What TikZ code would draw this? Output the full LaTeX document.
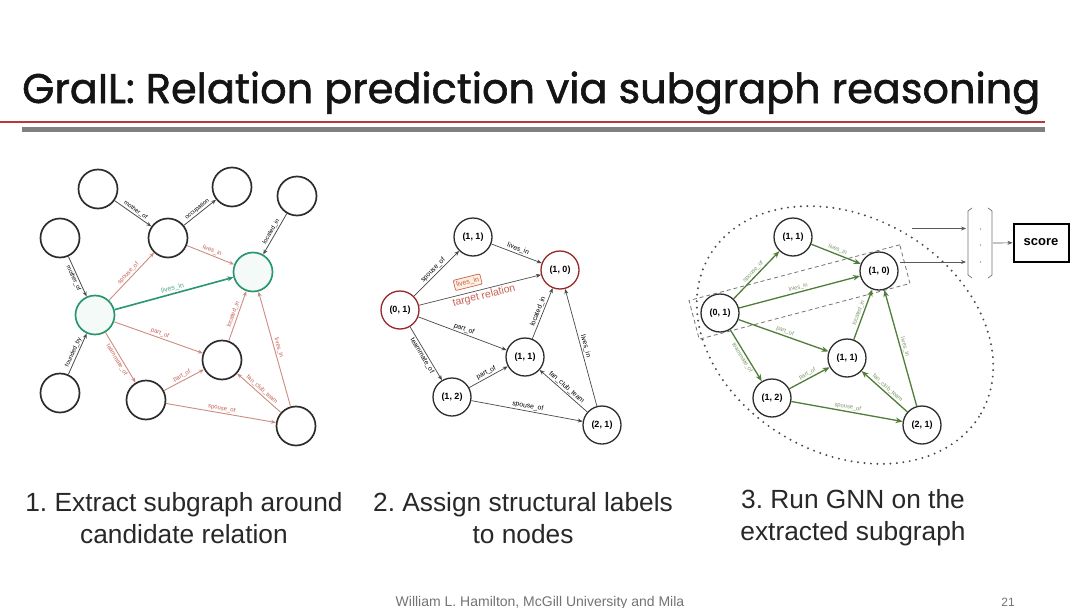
\documentclass[tikz,border=0pt]{standalone}
\usepackage{fontspec}
\setmainfont{Liberation Sans}
\newfontfamily\titlefont[FakeBold=1.4]{Poppins}
\usetikzlibrary{arrows.meta,shapes.geometric,calc}
\definecolor{nodegray}{RGB}{45,45,45}
\definecolor{tealg}{RGB}{40,150,110}
\definecolor{salmon}{RGB}{205,140,128}
\definecolor{labred}{RGB}{200,95,80}
\definecolor{darkred}{RGB}{150,40,40}
\definecolor{gnn}{RGB}{80,125,55}
\definecolor{gnnlab}{RGB}{125,150,105}
\definecolor{titlered}{RGB}{190,55,55}
\definecolor{capgray}{RGB}{40,40,40}
\tikzset{
  c1/.style={circle, draw=nodegray, line width=1.7pt, minimum size=39pt, inner sep=0pt, fill=white},
  gc/.style={c1, draw=tealg, fill=tealg!5},
  c2/.style={circle, draw=nodegray, line width=1.3pt, minimum size=38pt, inner sep=0pt, fill=white, font=\bfseries\fontsize{9}{10}\selectfont},
  c2r/.style={c2, draw=darkred},
  lab/.style={font=\fontsize{6}{6}\selectfont, sloped, above, inner sep=1.2pt},
  labb/.style={lab, below},
  lab2/.style={lab, font=\fontsize{6.8}{7}\selectfont},
  lab2b/.style={lab2, below},
  dk/.style={-{Stealth[length=5pt,width=4pt]}, draw=black!70, line width=0.8pt},
  rd/.style={-{Stealth[length=5pt,width=4pt]}, draw=salmon, line width=0.9pt},
  rdl/.style={lab, text=labred},
  rdlb/.style={labb, text=labred},
  gr/.style={-{Stealth[length=6pt,width=5pt]}, draw=tealg, line width=1.6pt},
  e2/.style={-{Stealth[length=5pt,width=4pt]}, draw=black!72, line width=0.7pt},
  e3/.style={-{Stealth[length=7pt,width=5.5pt]}, draw=gnn, line width=1.3pt},
  g3l/.style={lab, text=gnnlab, font=\fontsize{5.8}{6}\selectfont},
  g3lb/.style={g3l, below},
  plain/.style={-{Stealth[length=5pt,width=4pt]}, draw=black!65, line width=0.7pt},
  caption/.style={font=\fontsize{26.3}{32}\selectfont, text=capgray, align=center}
}
\begin{document}
\begin{tikzpicture}[x=1pt,y=-1pt]
\useasboundingbox (0,0) rectangle (1080,608);
\fill[white] (0,0) rectangle (1080,608);

% title
\node[anchor=base west, inner sep=0pt, text=black!92] (title) at (22,103)
  {\resizebox{1018pt}{!}{\titlefont GraIL: Relation prediction via subgraph reasoning}};
\draw[titlered, line width=2.5pt] (0,122) -- (1045,122);
\draw[black!50, line width=5pt] (22,129.5) -- (1045,129.5);

% ---------- panel 1 ----------
\node[c1] (A) at (98,189) {};
\node[c1] (B) at (60,238) {};
\node[c1] (C) at (168,238) {};
\node[c1] (D) at (232,187) {};
\node[c1] (E) at (297,196) {};
\node[gc] (F) at (253,272) {};
\node[gc] (G) at (95,315) {};
\node[c1] (H) at (60,393) {};
\node[c1] (I) at (146,400) {};
\node[c1] (J) at (222,360) {};
\node[c1] (K) at (296,426) {};

\draw[dk] (A) -- node[lab] {mother\_of} (C);
\draw[dk] (C) -- node[lab] {occupation} (D);
\draw[dk] (B) -- node[labb] {mother\_of} (G);
\draw[dk] (E) -- node[lab] {located\_in} (F);
\draw[dk] (H) -- node[lab] {founded\_by} (G);
\draw[rd] (G) -- node[rdl] {spouse\_of} (C);
\draw[rd] (C) -- node[rdl] {lives\_in} (F);
\draw[rd] (G) -- node[rdlb] {teammate\_of} (I);
\draw[rd] (G) -- node[rdl] {part\_of} (J);
\draw[rd] (I) -- node[rdl] {part\_of} (J);
\draw[rd] (I) -- node[rdl] {spouse\_of} (K);
\draw[rd] (J) -- node[rdl] {located\_in} (F);
\draw[rd] (K) -- node[rdl] {lives\_in} (F);
\draw[rd] (K) -- node[rdl] {fan\_club\_team} (J);
\draw[gr] (G) -- node[lab, text=tealg!80, font=\fontsize{7}{7}\selectfont] {lives\_in} (F);

% ---------- panel 2 ----------
\node[c2r] (P1) at (400,310) {(0, 1)};
\node[c2] (P2) at (473,237) {(1, 1)};
\node[c2r] (P3) at (560,270) {(1, 0)};
\node[c2] (P4) at (525,357) {(1, 1)};
\node[c2] (P5) at (452,397) {(1, 2)};
\node[c2] (P6) at (602,425) {(2, 1)};

\draw[e2] (P1) -- node[lab2] {spouse\_of} (P2);
\draw[e2] (P2) -- node[lab2] {lives\_in} (P3);
\draw[e2] (P1) -- node[pos=0.42, sloped, above=5pt, draw=labred, fill=orange!12, text=labred, font=\fontsize{7}{7}\selectfont, inner sep=2pt, rounded corners=1pt] {lives\_in}
                 node[pos=0.52, sloped, below=0.5pt, text=labred, font=\fontsize{10.5}{10}\selectfont, inner sep=1pt] {target relation} (P3);
\draw[e2] (P1) -- node[lab2] {part\_of} (P4);
\draw[e2] (P1) -- node[lab2b] {teammate\_of} (P5);
\draw[e2] (P5) -- node[lab2] {part\_of} (P4);
\draw[e2] (P5) -- node[lab2] {spouse\_of} (P6);
\draw[e2] (P4) -- node[lab2] {located\_in} (P3);
\draw[e2] (P6) -- node[lab2] {lives\_in} (P3);
\draw[e2] (P6) -- node[lab2] {fan\_club\_team} (P4);

% ---------- panel 3 ----------
\node[ellipse, draw=black!70, line width=2.2pt, dash pattern=on 0pt off 6.5pt, line cap=round,
      minimum width=314pt, minimum height=236pt, rotate=-30] (ell) at (845,335) {};
\node[c2] (Q1) at (720,313) {(0, 1)};
\node[c2] (Q2) at (793,237) {(1, 1)};
\node[c2] (Q3) at (879,271) {(1, 0)};
\node[c2] (Q4) at (847,358) {(1, 1)};
\node[c2] (Q5) at (772,398) {(1, 2)};
\node[c2] (Q6) at (922,425) {(2, 1)};
\node[draw=black!55, dash pattern=on 4pt off 3pt, line width=0.8pt, minimum width=218pt, minimum height=40pt,
      rotate=14.8, inner sep=0pt] (pair) at ($(Q1)!0.5!(Q3)$) {};

\draw[e3] (Q1) -- node[g3l] {spouse\_of} (Q2);
\draw[e3] (Q2) -- node[g3l] {lives\_in} (Q3);
\draw[e3] (Q1) -- node[g3l] {lives\_in} (Q3);
\draw[e3] (Q1) -- node[g3l] {part\_of} (Q4);
\draw[e3] (Q1) -- node[g3lb] {teammate\_of} (Q5);
\draw[e3] (Q5) -- node[g3l] {part\_of} (Q4);
\draw[e3] (Q5) -- node[g3l] {spouse\_of} (Q6);
\draw[e3] (Q4) -- node[g3l] {located\_in} (Q3);
\draw[e3] (Q6) -- node[g3l] {lives\_in} (Q3);
\draw[e3] (Q6) -- node[g3l] {fan\_club\_team} (Q4);

% vector and score
\draw[black!55, line width=0.7pt] (972,208) -- (968,211) -- (968,275) -- (972,278);
\draw[black!55, line width=0.7pt] (988,208) -- (992,211) -- (992,275) -- (988,278);
\fill[black!60] (980.5,229) circle (0.7) (980.5,245) circle (0.7) (980.5,262) circle (0.7);
\coordinate (vin1) at (966,228.5);
\coordinate (vin2) at (966,262);
\coordinate (vout) at (993,243);
\coordinate (s1) at (912,228.5);
\coordinate (s2) at (900,262);
\node[draw=black, line width=2pt, minimum width=55pt, minimum height=38pt, inner sep=0pt,
      font=\bfseries\fontsize{13}{14}\selectfont] (score) at (1041,242.5) {score};
\draw[plain] (s1) -- (vin1);
\draw[plain] (s2) -- (vin2);
\draw[plain] (vout) -- (score);

% captions
\node[caption] (cap1) at (184,518) {1.\ Extract subgraph around\\candidate relation};
\node[caption] (cap2) at (523,518) {2.\ Assign structural labels\\to nodes};
\node[caption] (cap3) at (853,518) {3.\ Run GNN on the\\extracted subgraph};

% footer
\node[text=black!55, font=\fontsize{14}{14}\selectfont] (foot) at (540,603) {William L. Hamilton, McGill University and Mila};
\node[text=black!55, font=\fontsize{12}{12}\selectfont] (page) at (1008,602) {21};
\end{tikzpicture}
\end{document}
